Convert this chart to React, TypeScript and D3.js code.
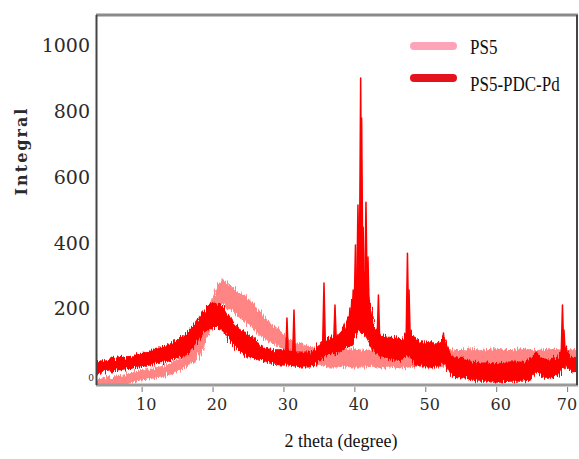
import React from "react";
import * as d3 from "d3";

// 2 theta grid (degree) for the noisy background bands
const theta = [
  3, 4, 5, 6, 7, 8, 9, 10, 11, 12, 13, 14, 15, 16, 17, 18, 19, 20, 21, 22, 23, 24,
  25, 26, 27, 28, 29, 30, 31, 32, 33, 34, 35, 36, 37, 38, 39, 40, 41, 42, 43, 44,
  45, 46, 47, 48, 49, 50, 51, 52, 53, 54, 55, 56, 57, 58, 59, 60, 61, 62, 63, 64,
  65, 66, 67, 68, 69, 70, 71,
];

// PS5: upper / lower edge of the noise band
const ps5Hi = [
  -18, -15, -12, -5, -2, 4, 10, 13, 16, 22, 28, 37, 49, 67, 89, 135, 210, 271, 286, 265, 250, 235,
  216, 186, 165, 147, 128, 107, 98, 89, 83, 77, 74, 74, 71, 74, 77, 74, 71, 74, 68, 71,
  74, 71, 74, 77, 74, 71, 74, 77, 74, 71, 74, 77, 71, 74, 77, 74, 71, 74, 77, 74,
  71, 74, 77, 74, 71, 74, 74,
];
const ps5Lo = [
  -42, -39, -36, -33, -30, -24, -18, -15, -12, -9, -2, 7, 16, 28, 43, 74, 135, 195, 216, 195, 177, 159,
  143, 119, 107, 95, 83, 64, 52, 43, 37, 31, 28, 22, 22, 25, 22, 22, 22, 25, 19, 22,
  22, 19, 22, 25, 22, 19, 22, 25, 22, 19, 22, 22, 19, 22, 25, 22, 19, 22, 22, 19,
  19, 22, 25, 22, 19, 22, 22,
];

// PS5-PDC-Pd: upper / lower edge of the noise band
const pdcHi = [
  37, 43, 46, 49, 52, 55, 61, 67, 74, 80, 89, 101, 113, 128, 156, 189, 213, 216, 204, 165, 141, 125,
  113, 86, 77, 74, 74, 71, 67, 67, 67, 74, 104, 111, 116, 140, 200, 320, 290, 150, 119, 113,
  111, 104, 134, 104, 98, 95, 95, 111, 55, 49, 46, 37, 34, 34, 31, 34, 37, 37, 37, 40,
  67, 43, 43, 49, 89, 52, 49,
];
const pdcLo = [
  4, 7, 10, 13, 16, 19, 22, 25, 31, 34, 40, 46, 55, 67, 89, 125, 141, 143, 128, 95, 74, 58,
  52, 43, 37, 31, 28, 28, 25, 22, 22, 31, 58, 61, 64, 80, 89, 134, 116, 74, 58, 49,
  43, 43, 58, 28, 25, 22, 22, 37, -5, -9, -12, -18, -21, -21, -24, -24, -21, -21, -21, -18,
  7, -9, -9, -5, 28, 7, 10,
];

// PS5-PDC-Pd diffraction peaks
const peakTheta = [
  29.86, 30.85, 35.08, 36.63, 38.74, 39.0, 39.2, 39.52, 39.87, 40.25, 40.39, 40.6, 41.0, 41.28,
  42.76, 46.85, 47.07, 51.93, 68.71, 68.92,
];
const peakTop = [
  171, 195, 277, 210, 201, 226, 256, 393, 514, 900, 779, 447, 523, 356,
  241, 368, 256, 125, 210, 134,
];

const xTicks = [10, 20, 30, 40, 50, 60, 70];
const yTicks = [200, 400, 600, 800, 1000];

const W = 579;
const H = 459;
const plot = { left: 96, right: 577, top: 15, bottom: 385 };

export default function App() {
  const x = d3.scaleLinear().domain([2.93, 70.76]).range([plot.left, plot.right]);
  const y = d3.scaleLinear().domain([0, 1000]).range([374.2, 45.2]);

  const band = (hi: number[], lo: number[]) =>
    d3
      .area<number>()
      .x((t) => x(t))
      .y0((_, i) => y(lo[i]))
      .y1((_, i) => y(hi[i]))(theta) || "";

  const pdcMid = d3
    .scaleLinear()
    .domain(theta)
    .range(theta.map((_, i) => (pdcHi[i] + pdcLo[i]) / 2));

  const spike = d3
    .line<[number, number]>()
    .x((d) => x(d[0]))
    .y((d) => y(d[1]));

  const hw = 0.2;
  const peaks = peakTheta.map((t, i) =>
    spike([
      [t - hw, pdcMid(t - hw)],
      [t, peakTop[i]],
      [t + hw, pdcMid(t + hw)],
    ]) || ""
  );

  return (
    <svg width={W} height={H} style={{ position: "absolute", left: 0, top: 0, background: "#fff" }}>
      <defs>
        <clipPath id="plotClip">
          <rect x={plot.left + 1} y={plot.top} width={plot.right - plot.left - 1} height={plot.bottom - plot.top} />
        </clipPath>
        {/* ragged edge for the noisy bands */}
        <filter id="rough" x="-2%" y="-10%" width="104%" height="120%">
          <feTurbulence type="fractalNoise" baseFrequency="0.9 0.06" numOctaves="2" seed="4" result="n" />
          <feDisplacementMap in="SourceGraphic" in2="n" scale="9" xChannelSelector="B" yChannelSelector="R" />
        </filter>
      </defs>

      <g clipPath="url(#plotClip)">
        <g filter="url(#rough)">
          <path d={band(ps5Hi, ps5Lo)} fill="#ff8585" stroke="#ff8585" strokeWidth={1.2} />
          <path d={band(pdcHi, pdcLo)} fill="#ff0000" stroke="#ff0000" strokeWidth={1.2} />
        </g>
        {peaks.map((d, i) => (
          <path key={i} d={d} fill="#ff0000" stroke="#ff0000" strokeWidth={1.5} strokeLinejoin="round" />
        ))}
      </g>

      {/* frame */}
      <line x1={plot.left} x2={plot.right + 1} y1={plot.top} y2={plot.top} stroke="#8a8a8a" strokeWidth={3} />
      <line x1={plot.left} x2={plot.right + 1} y1={plot.bottom} y2={plot.bottom} stroke="#9a9a9a" strokeWidth={3} />
      <line x1={plot.left + 0.5} x2={plot.left + 0.5} y1={plot.top} y2={plot.bottom} stroke="#444" strokeWidth={2} />
      <line x1={plot.right} x2={plot.right} y1={plot.top} y2={plot.bottom} stroke="#444" strokeWidth={2} />

      {/* y axis */}
      {yTicks.map((v) => (
        <text key={v} x={90} y={y(v)} textAnchor="end" dominantBaseline="central"
          fontFamily="DejaVu Serif" fontSize={19} fill="#2b2b2b">{v}</text>
      ))}
      <text x={91} y={378} textAnchor="middle" dominantBaseline="central"
        fontFamily="DejaVu Serif" fontSize={9} fill="#2b2b2b">0</text>
      <text transform="translate(21,151) rotate(-90)" textAnchor="middle" dominantBaseline="central"
        fontFamily="DejaVu Serif" fontWeight="bold" fontSize={16} letterSpacing={2} fill="#2b2b2b">Integral</text>

      {/* x axis */}
      {xTicks.map((v) => (
        <g key={v}>
          <line x1={x(v) - 4} x2={x(v) - 4} y1={plot.bottom + 2} y2={plot.bottom + 7} stroke="#777" strokeWidth={1} />
          <text x={Math.min(x(v), 567)} y={404} textAnchor="middle" dominantBaseline="central"
            fontFamily="DejaVu Serif" fontSize={16} fill="#2b2b2b">{v}</text>
        </g>
      ))}
      <text x={341} y={441} textAnchor="middle" dominantBaseline="central"
        fontFamily="Liberation Serif" fontSize={18} fill="#111">2 theta (degree)</text>

      {/* legend */}
      <line x1={414} x2={453} y1={46} y2={46} stroke="#ffa3b9" strokeWidth={8} strokeLinecap="round" />
      <line x1={414} x2={453} y1={78} y2={78} stroke="#e3121d" strokeWidth={8} strokeLinecap="round" />
      <text transform="translate(470,47) scale(1,1.25)" dominantBaseline="central" fontFamily="Liberation Serif"
        fontSize={17} fill="#111">PS5</text>
      <text transform="translate(470,84) scale(1,1.25)" dominantBaseline="central" fontFamily="Liberation Serif"
        fontSize={17} fill="#111">PS5-PDC-Pd</text>
    </svg>
  );
}
